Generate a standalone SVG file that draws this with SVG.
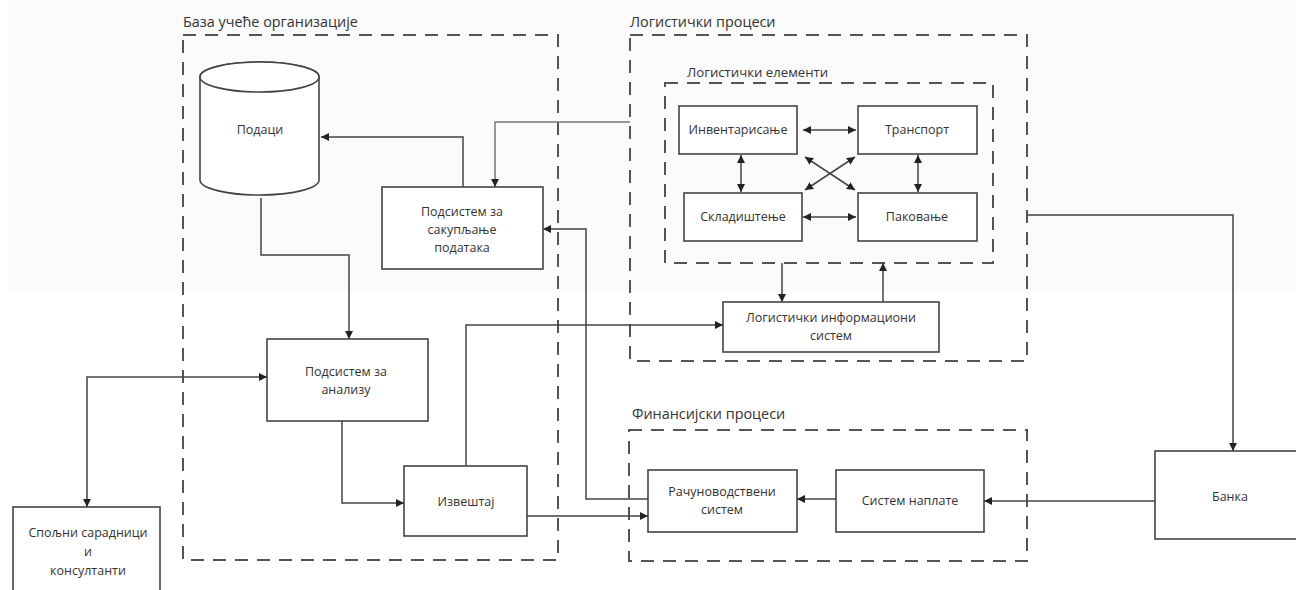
<svg xmlns="http://www.w3.org/2000/svg" width="1296" height="590" viewBox="0 0 1296 590">
<style>
.t{font-family:"Open Sans","Noto Sans","Liberation Sans",sans-serif;font-size:12.5px;fill:#333;text-anchor:middle}
.h{font-family:"Open Sans","Noto Sans","Liberation Sans",sans-serif;font-size:14.4px;fill:#333}
.box{fill:#fff;stroke:#444;stroke-width:1.6}
.dash{fill:none;stroke:#555;stroke-width:2;stroke-dasharray:13 9}
.c{fill:none;stroke:#444;stroke-width:1.5}
.g{fill:none;stroke:#777;stroke-width:1.5}
</style>
<defs>
<marker id="a" viewBox="0 0 10 10" refX="10" refY="5" markerWidth="8" markerHeight="8" markerUnits="userSpaceOnUse" orient="auto-start-reverse"><path d="M0,0 L10,5 L0,10 z" fill="#222"/></marker>
</defs>
<rect x="0" y="0" width="1296" height="590" fill="#fff"/>
<rect x="8" y="0" width="1288" height="292" fill="#fbfbfb"/>

<g id="group-baza">
<text class="h" x="183" y="27">База учеће организације</text>
<rect class="dash" x="183" y="35" width="375" height="525"/>
</g>
<g id="group-log">
<text class="h" x="630" y="27">Логистички процеси</text>
<rect class="dash" x="630" y="35" width="397" height="326"/>
</g>
<g id="group-logel">
<text class="h" x="687" y="77" style="font-size:13.2px">Логистички елементи</text>
<rect class="dash" x="665" y="83" width="328" height="180"/>
</g>
<g id="group-fin">
<text class="h" x="632" y="419">Финансијски процеси</text>
<rect class="dash" x="629" y="430" width="398" height="131"/>
</g>

<g id="connectors">
<polyline class="c" points="463,187 463,137 321,137" marker-end="url(#a)"/>
<polyline class="g" points="630,122 495,122 495,187" marker-end="url(#a)"/>
<polyline class="c" points="261,198 261,255 349,255 349,339" marker-end="url(#a)"/>
<polyline class="c" points="267,377 87,377 87,507" marker-start="url(#a)" marker-end="url(#a)"/>
<polyline class="c" points="342,421 342,503 404,503" marker-end="url(#a)"/>
<polyline class="c" points="466,466 466,325 723,325" marker-end="url(#a)"/>
<polyline class="c" points="527,516 648,516" marker-end="url(#a)"/>
<polyline class="c" points="648,499 586,499 586,229 543,229" marker-end="url(#a)"/>
<line class="c" x1="803" y1="130" x2="856" y2="130" marker-start="url(#a)" marker-end="url(#a)"/>
<line class="c" x1="803" y1="217" x2="856" y2="217" marker-start="url(#a)" marker-end="url(#a)"/>
<line class="c" x1="741" y1="155" x2="741" y2="192" marker-start="url(#a)" marker-end="url(#a)"/>
<line class="c" x1="918" y1="155" x2="918" y2="192" marker-start="url(#a)" marker-end="url(#a)"/>
<line class="c" x1="805" y1="157" x2="855" y2="190" marker-start="url(#a)" marker-end="url(#a)"/>
<line class="c" x1="855" y1="157" x2="805" y2="190" marker-start="url(#a)" marker-end="url(#a)"/>
<line class="c" x1="782" y1="263" x2="782" y2="302" marker-end="url(#a)"/>
<line class="c" x1="883" y1="302" x2="883" y2="263" marker-end="url(#a)"/>
<polyline class="c" points="1027,215 1233,215 1233,451" marker-end="url(#a)"/>
<line class="c" x1="1155" y1="501" x2="984" y2="501" marker-end="url(#a)"/>
<line class="c" x1="836" y1="499" x2="797" y2="499" marker-end="url(#a)"/>
</g>

<g id="podaci">
<path class="box" d="M200,77 L200,180 A59.5,15 0 0 0 319,180 L319,77 A59.5,15 0 0 0 200,77 z"/>
<ellipse class="box" cx="259.5" cy="77" rx="59.5" ry="15"/>
<text class="t" x="260" y="134">Подаци</text>
</g>
<g id="sakupljanje">
<rect class="box" x="382" y="187" width="161" height="82"/>
<text class="t" x="462" y="216">Подсистем за</text>
<text class="t" x="462" y="234">сакупљање</text>
<text class="t" x="462" y="252">података</text>
</g>
<g id="analiza">
<rect class="box" x="267" y="339" width="161" height="82"/>
<text class="t" x="346" y="376">Подсистем за</text>
<text class="t" x="346" y="394">анализу</text>
</g>
<g id="izvestaj">
<rect class="box" x="404" y="466" width="123" height="70"/>
<text class="t" x="466" y="506">Извештај</text>
</g>
<g id="spoljni">
<rect class="box" x="13" y="507" width="147" height="90"/>
<text class="t" x="88" y="537">Спољни сарадници</text>
<text class="t" x="88" y="556">и</text>
<text class="t" x="88" y="575">консултанти</text>
</g>
<g id="inventarisanje">
<rect class="box" x="679" y="106" width="118" height="48"/>
<text class="t" x="738" y="134">Инвентарисање</text>
</g>
<g id="transport">
<rect class="box" x="858" y="106" width="119" height="48"/>
<text class="t" x="917" y="134">Транспорт</text>
</g>
<g id="skladistenje">
<rect class="box" x="684" y="193" width="118" height="48"/>
<text class="t" x="743" y="221">Складиштење</text>
</g>
<g id="pakovanje">
<rect class="box" x="858" y="193" width="119" height="48"/>
<text class="t" x="917" y="221">Паковање</text>
</g>
<g id="lis">
<rect class="box" x="723" y="302" width="216" height="50"/>
<text class="t" x="831" y="322">Логистички информациони</text>
<text class="t" x="831" y="340">систем</text>
</g>
<g id="racunovodstveni">
<rect class="box" x="648" y="470" width="149" height="62"/>
<text class="t" x="722" y="496">Рачуноводствени</text>
<text class="t" x="722" y="514">систем</text>
</g>
<g id="naplata">
<rect class="box" x="836" y="470" width="148" height="62"/>
<text class="t" x="910" y="505">Систем наплате</text>
</g>
<g id="banka">
<rect class="box" x="1155" y="451" width="150" height="88"/>
<text class="t" x="1230" y="501">Банка</text>
</g>
</svg>
